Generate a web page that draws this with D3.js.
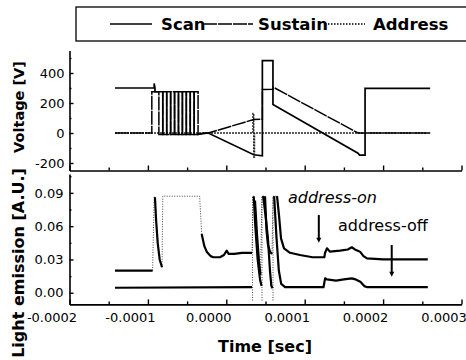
<!DOCTYPE html>
<html><head><meta charset="utf-8">
<script src="https://cdn.jsdelivr.net/npm/d3@7"></script>
<style>
html,body{margin:0;padding:0;background:#fff;}
svg{display:block;}
text{font-family:"DejaVu Sans",sans-serif;fill:#000;}
</style></head>
<body><svg id="c" width="466" height="360"></svg>
<script>
// ---------- DATA (time in microseconds; axis labels shown in seconds) ----------
const seriesNames = ["Scan", "Sustain", "Address"];
const timeTicks = [-200, -100, 0, 100, 200, 300];
const timeMinorTicks = [-150, -50, 50, 150, 250];
const voltTicks = [-200, 0, 200, 400];
const voltMinorTicks = [-100, 100, 300, 500];
const lightTicks = [0, 0.03, 0.06, 0.09];
const lightMinorTicks = [0.015, 0.045, 0.075, 0.105];

// Voltage waveforms [t (µs), V]
const scanV = [[-142,300],[-92,300],[-92,330],[-91,300],[-91,275],[-81,275],[-81,-10],[-76,-10],[-76,275],[-71,275],[-71,-10],[-66,-10],[-66,275],[-61,275],[-61,-10],[-56,-10],[-56,275],[-51,275],[-51,-10],[-46,-10],[-46,275],[-41,275],[-41,-10],[-36,-10],[-30,-4],[-23,0],[35,-145],[46,-152],[46,482],[59.5,482],[59.5,190],[168,-135],[170,-147],[177,-147],[177,298],[260,298]];
const sustainV = [[-142,0],[-95,0],[-95,275],[-86,275],[-86,-10],[-81,-10],[-81,275],[-76,275],[-76,-10],[-71,-10],[-71,275],[-66,275],[-66,-10],[-61,-10],[-61,275],[-56,275],[-56,-10],[-51,-10],[-51,275],[-46,275],[-46,-10],[-41,-10],[-41,275],[-36,275],[-36,-10],[-30,0],[-23,0],[35,90],[46,92],[46,290],[59.5,292],[60,305],[168,0],[260,0]];
const addressV = [[-142,0],[34,0],[34,130],[35,130],[35,-160],[36,-160],[36,0],[260,0]];

// Light emission [t (µs), A.U.] ; null = gap
const onSolid = [[-142,0.020],[-94,0.020],null,[-91,0.086],[-89.5,0.065],[-87.5,0.045],[-85,0.030],[-82,0.023],null,
 [-31.4,0.053],[-28,0.042],[-25,0.037],[-20,0.033],[-16.6,0.032],[-8,0.032],[-3,0.034],[0.5,0.038],[3,0.035],[10,0.035],[20,0.036],[32.8,0.036],null,
 [36.6,0.083],[39.2,0.052],[41.7,0.028],[43.6,0.016],null,
 [49.4,0.087],[51.3,0.056],[53.2,0.043],[55.7,0.037],[58.3,0.035],null,
 [64.7,0.087],[67.2,0.070],[69.8,0.049],[73.6,0.040],[81.3,0.036],[94,0.034],[110,0.032],[125,0.032],[126,0.036],[128.4,0.040],[132.3,0.037],[145,0.038],[155,0.039],[160,0.041],[164,0.039],[170.6,0.037],[175,0.033],[179.5,0.031],[200,0.030],[257,0.030]];
const onDotted = [[-94,0.020],[-92,0.087],[-91,0.086],null,[-82,0.023],[-81,0.087],[-34,0.087],[-31.4,0.053],null,
 [32.8,0.036],[34.1,0.087],[36.6,0.083],null,[43.6,0.016],[45.5,0.087],[49.4,0.087],null,[58.3,0.035],[59.6,0.087],[64.7,0.087]];
const offSolid = [[-142,0.0045],[32.8,0.005],null,
 [35,0.087],[37,0.060],[40,0.030],[43,0.012],[45,0.006],null,
 [47,0.087],[50,0.070],[53,0.050],[55.7,0.020],[57.5,0.006],[59,0.004],null,
 [61,0.087],[64,0.050],[67,0.020],[70,0.008],[75,0.005],[100,0.005],[124,0.005],[126,0.013],[128.4,0.012],[140,0.011],[150,0.012],[160,0.013],[165,0.012],[171,0.010],[176,0.006],[180,0.005],[220,0.005],[257,0.005]];
const offDotted = [[33.5,-0.007],[33.5,0.087],[35,0.087],null,[45.5,-0.007],[45.5,0.087],[47,0.087],null,[59.6,-0.007],[59.6,0.087],[61,0.087]];

// annotations
const annoLabels = ["address-on", "address-off"];
const annoText = [[78.7, 0.0807], [142.5, 0.0555]];
const annoArrows = [[118, 0.070, 0.045], [211, 0.043, 0.0145]];

// ---------- CHART ----------
const svg = d3.select("#c");
const x = d3.scaleLinear().domain([-200, 300]).range([69.5, 461.5]);
const yV = d3.scaleLinear().domain([-250, 550]).range([170.5, 50.5]);
const yL = d3.scaleLinear().domain([-0.0105, 0.107]).range([304.4, 174]);
const hy = s => s.replace("\u2212", "-");

function styleAxis(g){
  g.selectAll("path.domain").attr("stroke","#000").attr("stroke-width",1.6);
  g.selectAll(".tick line").attr("stroke","#000").attr("stroke-width",1.4);
  g.selectAll("text").attr("font-size",13).attr("font-family","DejaVu Sans, sans-serif");
}

// Top panel axes
const gTopL = svg.append("g").attr("transform",`translate(${x.range()[0]},0)`)
  .call(d3.axisLeft(yV).tickValues(voltTicks).tickSizeInner(-4).tickSizeOuter(0).tickPadding(5).tickFormat(d=>hy(d3.format("d")(d))));
styleAxis(gTopL);
const gTopLm = svg.append("g").attr("transform",`translate(${x.range()[0]},0)`)
  .call(d3.axisLeft(yV).tickValues(voltMinorTicks).tickSizeInner(-2).tickSizeOuter(0).tickFormat(""));
styleAxis(gTopLm); gTopLm.select("path.domain").remove();
const gTopB = svg.append("g").attr("transform",`translate(0,${yV.range()[0]})`)
  .call(d3.axisBottom(x).tickValues(timeTicks).tickSizeInner(-5).tickSizeOuter(0).tickFormat(""));
styleAxis(gTopB);
const gTopBm = svg.append("g").attr("transform",`translate(0,${yV.range()[0]})`)
  .call(d3.axisBottom(x).tickValues(timeMinorTicks).tickSizeInner(-3).tickSizeOuter(0).tickFormat(""));
styleAxis(gTopBm); gTopBm.select("path.domain").remove();

// Bottom panel axes
const gBotL = svg.append("g").attr("transform",`translate(${x.range()[0]},0)`)
  .call(d3.axisLeft(yL).tickValues(lightTicks).tickSizeInner(-4).tickSizeOuter(0).tickPadding(6).tickFormat(d3.format(".2f")));
styleAxis(gBotL);
const gBotLm = svg.append("g").attr("transform",`translate(${x.range()[0]},0)`)
  .call(d3.axisLeft(yL).tickValues(lightMinorTicks).tickSizeInner(-2).tickSizeOuter(0).tickFormat(""));
styleAxis(gBotLm); gBotLm.select("path.domain").remove();
const gBotB = svg.append("g").attr("transform",`translate(0,${yL.range()[0]})`)
  .call(d3.axisBottom(x).tickValues(timeTicks).tickSizeInner(-5).tickSizeOuter(0).tickPadding(8).tickFormat(d=>hy(d3.format(".4f")(d/1e6))));
styleAxis(gBotB);
gBotB.selectAll("text").attr("dx", -18);
const gBotBm = svg.append("g").attr("transform",`translate(0,${yL.range()[0]})`)
  .call(d3.axisBottom(x).tickValues(timeMinorTicks).tickSizeInner(-3).tickSizeOuter(0).tickFormat(""));
styleAxis(gBotBm); gBotBm.select("path.domain").remove();

// Axis titles
svg.append("text").attr("transform","translate(24,107) rotate(-90)").attr("text-anchor","middle")
  .attr("font-weight","bold").attr("font-size",14.5).text("Voltage [V]");
svg.append("text").attr("transform","translate(24,263) rotate(-90)").attr("text-anchor","middle")
  .attr("font-weight","bold").attr("font-size",16).text("Light emission [A.U.]");
svg.append("text").attr("x",265).attr("y",352).attr("text-anchor","middle")
  .attr("font-weight","bold").attr("font-size",16).text("Time [sec]");

// Voltage lines
const lineV = d3.line().x(d=>x(d[0])).y(d=>yV(d[1]));
svg.append("path").datum(addressV).attr("d",lineV).attr("fill","none").attr("stroke","#222").attr("stroke-width",1.4).attr("stroke-dasharray","2,1");
svg.append("path").datum(sustainV).attr("d",lineV).attr("fill","none").attr("stroke","#000").attr("stroke-width",1.5).attr("stroke-dasharray","14,1");
svg.append("path").datum(scanV).attr("d",lineV).attr("fill","none").attr("stroke","#000").attr("stroke-width",1.7);

// Light emission lines
const lineL = d3.line().defined(d=>d!==null).x(d=>x(d[0])).y(d=>yL(d[1]));
[onDotted, offDotted].forEach(dd=>{
  svg.append("path").datum(dd).attr("d",lineL).attr("fill","none").attr("stroke","#444").attr("stroke-width",1).attr("stroke-dasharray","1,1.5");
});
[onSolid, offSolid].forEach(dd=>{
  svg.append("path").datum(dd).attr("d",lineL).attr("fill","none").attr("stroke","#000").attr("stroke-width",2.2).attr("stroke-linejoin","round");
});

// Annotations
annoLabels.forEach((s,i)=>{
  svg.append("text").attr("x",x(annoText[i][0])).attr("y",yL(annoText[i][1]))
    .attr("font-size",16).attr("font-style", i===0?"italic":"normal").text(s);
  const a = annoArrows[i];
  const ax = x(a[0]), y1 = yL(a[1]), y2 = yL(a[2]);
  svg.append("line").attr("x1",ax).attr("x2",ax).attr("y1",y1).attr("y2",y2-3).attr("stroke","#000").attr("stroke-width",2);
  svg.append("path").attr("d",`M${ax-2.5},${y2-5}L${ax+2.5},${y2-5}L${ax},${y2}Z`).attr("fill","#000");
});

// Legend
const lg = svg.append("g");
lg.append("rect").attr("x",76).attr("y",7).attr("width",400).attr("height",34).attr("fill","none").attr("stroke","#000").attr("stroke-width",1.3);
const legX = [[110,152,161],[203,253,258],[325,365,373]];
const legDash = [null,"14,1","1.5,1.5"];
const legW = [1.7,1.5,1.3];
seriesNames.forEach((n,i)=>{
  const l = lg.append("line").attr("x1",legX[i][0]).attr("x2",legX[i][1]).attr("y1",24).attr("y2",24).attr("stroke","#000").attr("stroke-width",legW[i]);
  if(legDash[i]) l.attr("stroke-dasharray",legDash[i]);
  lg.append("text").attr("x",legX[i][2]).attr("y",30).attr("font-family","Liberation Sans, Arial, sans-serif")
    .attr("font-weight","bold").attr("font-size",16.5).text(n);
});
</script></body></html>
